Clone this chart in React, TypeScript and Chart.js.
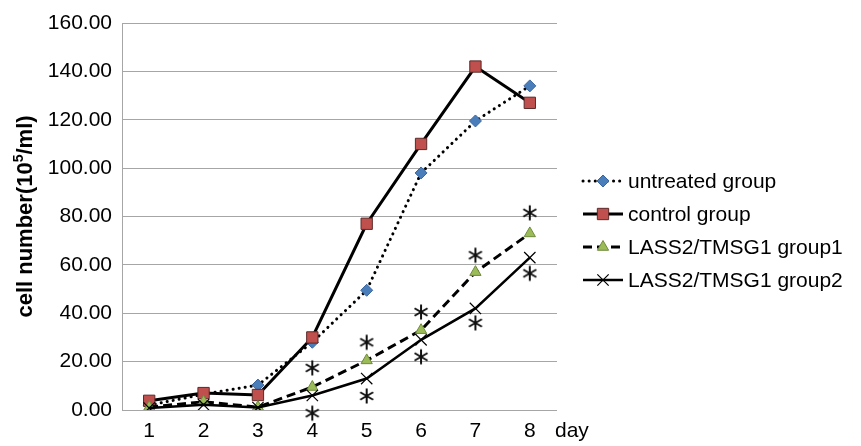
import React, { useEffect, useRef } from "react";
import { Chart, registerables } from "chart.js";

Chart.register(...registerables);

const days = ["1", "2", "3", "4", "5", "6", "7", "8"];
const untreated = [2, 6.5, 10.3, 28, 49.5, 98, 119.5, 134];
const control = [3.8, 7, 6.2, 30, 77, 110, 142, 127];
const group1 = [1.2, 3.4, 1.2, 9.5, 20.5, 33, 57, 73];
const group2 = [0.8, 2.2, 1, 6, 13, 29, 42, 63];
const sigAbove = [null, null, null, 17.4, 28, 40.5, 64, 81.5];
const sigBelow = [null, null, null, -1.3, 5.8, 22, 36, 56.5];
const seriesNames = ["untreated group", "control group", "LASS2/TMSG1 group1", "LASS2/TMSG1 group2"];
const yMin = 0;
const yMax = 160;
const yStep = 20;
const yTitle = "cell number(10";
const yTitleSup = "5";
const yTitleEnd = "/ml)";
const xUnit = "day";

const FONT = "'Liberation Sans', Arial, sans-serif";

function makeAsterisk(): HTMLCanvasElement {
  const c = document.createElement("canvas");
  c.width = 18;
  c.height = 18;
  const g = c.getContext("2d")!;
  g.strokeStyle = "#111";
  g.lineWidth = 2;
  g.lineCap = "butt";
  const cx = 9, cy = 9, r = 7.5;
  [90, 30, 150].forEach((deg) => {
    const a = (deg * Math.PI) / 180;
    g.beginPath();
    g.moveTo(cx - Math.cos(a) * r, cy - Math.sin(a) * r);
    g.lineTo(cx + Math.cos(a) * r, cy + Math.sin(a) * r);
    g.stroke();
  });
  return c;
}

function drawMarker(ctx: CanvasRenderingContext2D, style: string, r: number, x: number, y: number) {
  ctx.beginPath();
  if (style === "rect") {
    const s = Math.SQRT1_2 * r;
    ctx.rect(x - s, y - s, 2 * s, 2 * s);
    ctx.fill();
    ctx.stroke();
  } else if (style === "rectRot") {
    ctx.moveTo(x - r, y);
    ctx.lineTo(x, y - r);
    ctx.lineTo(x + r, y);
    ctx.lineTo(x, y + r);
    ctx.closePath();
    ctx.fill();
    ctx.stroke();
  } else if (style === "triangle") {
    for (let k = 0; k < 3; k++) {
      const a = (k * 2 * Math.PI) / 3;
      const px = x + Math.sin(a) * r;
      const py = y - Math.cos(a) * r;
      if (k === 0) ctx.moveTo(px, py);
      else ctx.lineTo(px, py);
    }
    ctx.closePath();
    ctx.fill();
    ctx.stroke();
  } else if (style === "crossRot") {
    const d = Math.cos(Math.PI / 4) * r;
    ctx.moveTo(x - d, y - d);
    ctx.lineTo(x + d, y + d);
    ctx.moveTo(x + d, y - d);
    ctx.lineTo(x - d, y + d);
    ctx.stroke();
  }
}

const customPlugin = {
  id: "customDecor",
  afterDraw(chart: any) {
    const ctx = chart.ctx as CanvasRenderingContext2D;
    const area = chart.chartArea;
    ctx.save();
    // Y title
    ctx.translate(26, (area.top + area.bottom) / 2);
    ctx.rotate(-Math.PI / 2);
    ctx.fillStyle = "#000";
    ctx.textBaseline = "middle";
    const big = `bold 22px ${FONT}`;
    const small = `bold 14px ${FONT}`;
    ctx.font = big;
    const w1 = ctx.measureText(yTitle).width;
    const w3 = ctx.measureText(yTitleEnd).width;
    ctx.font = small;
    const w2 = ctx.measureText(yTitleSup).width;
    const total = w1 + w2 + w3;
    let x = -total / 2;
    ctx.font = big;
    ctx.textAlign = "left";
    ctx.fillText(yTitle, x, 0);
    x += w1;
    ctx.font = small;
    ctx.fillText(yTitleSup, x, -7);
    x += w2;
    ctx.font = big;
    ctx.fillText(yTitleEnd, x, 0);
    ctx.restore();

    // "day" label
    ctx.save();
    ctx.font = `21px ${FONT}`;
    ctx.fillStyle = "#000";
    ctx.textBaseline = "middle";
    ctx.textAlign = "left";
    ctx.fillText(xUnit, 555, 431);
    ctx.restore();

    // legend
    const ys = [181, 214, 247, 280];
    for (let i = 0; i < 4; i++) {
      const ds = chart.data.datasets[i];
      const y = ys[i];
      ctx.save();
      ctx.strokeStyle = ds.borderColor;
      ctx.lineWidth = ds.borderWidth;
      ctx.lineCap = ds.borderCapStyle || "butt";
      ctx.setLineDash(ds.borderDash || []);
      ctx.beginPath();
      ctx.moveTo(583, y);
      ctx.lineTo(623, y);
      ctx.stroke();
      ctx.restore();
      const meta = chart.getDatasetMeta(i);
      const el = meta.data[0];
      if (el) {
        const opts = el.options;
        ctx.save();
        ctx.setLineDash([]);
        ctx.fillStyle = opts.backgroundColor;
        ctx.strokeStyle = opts.borderColor;
        ctx.lineWidth = opts.borderWidth;
        drawMarker(ctx, opts.pointStyle, opts.radius, 603, y);
        ctx.restore();
      }
      ctx.save();
      ctx.font = `21px ${FONT}`;
      ctx.fillStyle = "#000";
      ctx.textBaseline = "middle";
      ctx.textAlign = "left";
      ctx.fillText(seriesNames[i], 628, y + 1);
      ctx.restore();
    }
  },
};

export default function App() {
  const ref = useRef<HTMLCanvasElement | null>(null);
  useEffect(() => {
    if (!ref.current) return;
    const ast = makeAsterisk();
    const chart = new Chart(ref.current, {
      type: "line",
      data: {
        labels: days,
        datasets: [
          {
            label: seriesNames[0],
            data: untreated,
            borderColor: "#000",
            borderWidth: 3,
            borderDash: [0.1, 6],
            borderCapStyle: "round",
            pointStyle: "rectRot",
            pointRadius: 6,
            pointBackgroundColor: "#4a7ebb",
            pointBorderColor: "#3a66a0",
            pointBorderWidth: 1,
            tension: 0,
            order: 3,
          },
          {
            label: seriesNames[1],
            data: control,
            borderColor: "#000",
            borderWidth: 3,
            pointStyle: "rect",
            pointRadius: 8,
            pointBackgroundColor: "#c0504d",
            pointBorderColor: "#5a2a28",
            pointBorderWidth: 1,
            tension: 0,
            order: 2,
          },
          {
            label: seriesNames[2],
            data: group1,
            borderColor: "#000",
            borderWidth: 3,
            borderDash: [9, 5],
            pointStyle: "triangle",
            pointRadius: 6.5,
            pointBackgroundColor: "#9bbb59",
            pointBorderColor: "#6e8a3a",
            pointBorderWidth: 1,
            tension: 0,
            order: 1,
          },
          {
            label: seriesNames[3],
            data: group2,
            borderColor: "#000",
            borderWidth: 2.5,
            pointStyle: "crossRot",
            pointRadius: 8,
            pointBackgroundColor: "#000",
            pointBorderColor: "#000",
            pointBorderWidth: 1.2,
            tension: 0,
            order: 0,
          },
          {
            label: "sigAbove",
            data: sigAbove,
            showLine: false,
            pointStyle: ast,
            pointRadius: 8,
            clip: false,
          } as any,
          {
            label: "sigBelow",
            data: sigBelow,
            showLine: false,
            pointStyle: ast,
            pointRadius: 8,
            clip: false,
          } as any,
        ],
      },
      options: {
        responsive: false,
        animation: false,
        layout: { padding: { left: 0, top: 23, right: 304, bottom: 0 } },
        plugins: { legend: { display: false }, tooltip: { enabled: false } },
        scales: {
          x: {
            offset: true,
            grid: { display: false, drawTicks: false },
            border: { display: false },
            ticks: { padding: 9, color: "#000", font: { size: 21, family: FONT } },
            afterFit: (s: any) => {
              s.height = 36;
            },
          },
          y: {
            min: yMin,
            max: yMax,
            grid: { color: "#a6a6a6", lineWidth: 1, drawTicks: false },
            border: { color: "#a6a6a6", width: 1 },
            ticks: {
              stepSize: yStep,
              padding: 10,
              color: "#000",
              font: { size: 21, family: FONT },
              callback: (v: any) => Number(v).toFixed(2),
            },
            afterFit: (s: any) => {
              s.width = 122;
            },
          },
        },
      },
      plugins: [customPlugin],
    });
    return () => chart.destroy();
  }, []);
  return (
    <div style={{ position: "absolute", left: 0, top: 0, width: 861, height: 446, background: "#fff" }}>
      <canvas ref={ref} width={861} height={446} style={{ width: 861, height: 446, display: "block" }} />
    </div>
  );
}
